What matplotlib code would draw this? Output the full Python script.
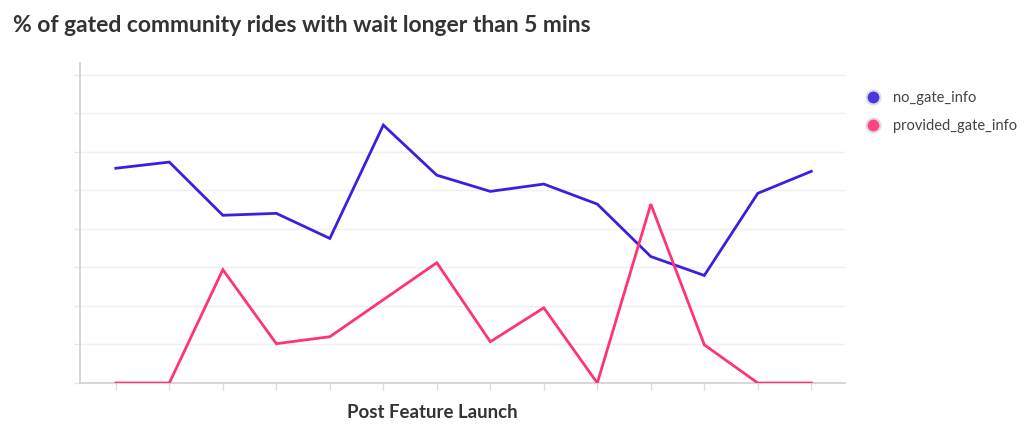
import matplotlib
matplotlib.use('Agg')
import matplotlib.pyplot as plt
from matplotlib.lines import Line2D

plt.rcParams['font.family'] = ['Lato', 'DejaVu Sans']

# 14 periods after launch (one unit per gridline)
periods = list(range(14))
no_gate_info = [5.57, 5.73, 4.35, 4.40, 3.75, 6.69, 5.39, 4.97, 5.16, 4.64, 3.28, 2.79, 4.92, 5.49]
provided_gate_info = [0, 0, 2.94, 1.02, 1.20, 2.16, 3.12, 1.07, 1.95, 0, 4.64, 0.99, 0, 0]
series_names = ['no_gate_info', 'provided_gate_info']
series_colors = ['#3b1fe0', '#ff3377']
marker_colors = ['#4b36e6', '#ff4580']
y_ticks = list(range(9))

fig = plt.figure(figsize=(10.24, 4.4), dpi=100)
ax = fig.add_axes([80 / 1024, 1 - 383 / 440, 765 / 1024, 320 / 440])

for vals, color in zip([no_gate_info, provided_gate_info], series_colors):
    ax.plot(periods, vals, color=color, linewidth=2, solid_joinstyle='miter', zorder=3)

ax.set_xlim(-0.67, 13.63)
ax.set_ylim(0, 8.3)
ax.set_yticks(y_ticks)
ax.set_xticks(periods)
ax.set_yticklabels([])
ax.set_xticklabels([])
ax.grid(axis='y', color='#efefef', linewidth=1)
ax.set_axisbelow(True)
for side in ['top', 'right']:
    ax.spines[side].set_visible(False)
for side in ['left', 'bottom']:
    ax.spines[side].set_color('#d0d0d0')
    ax.spines[side].set_linewidth(1.2)
ax.tick_params(axis='x', length=5, color='#dddddd', width=1)
ax.tick_params(axis='y', length=4, color='#e6e6e6', width=1)

fig.text(13 / 1024, 1 - 25 / 440, '% of gated community rides with wait longer than 5 mins',
         fontsize=16.5, fontweight='bold', color='#333333', va='center', ha='left')
fig.text(432 / 1024, 1 - 412 / 440, 'Post Feature Launch',
         fontsize=13.4, fontweight='bold', color='#333333', va='center', ha='center')

handles = [Line2D([], [], linestyle='none', marker='o', markersize=10,
                  markerfacecolor=c, markeredgecolor='#dddddd', markeredgewidth=1.5)
           for c in marker_colors]
fig.legend(handles, series_names, loc='upper left', bbox_to_anchor=(858 / 1024, 1 - 91 / 440),
           frameon=False, fontsize=10.5, labelcolor='#444444', handletextpad=0.4,
           labelspacing=0.95, borderaxespad=0, borderpad=0)

fig.savefig('out.png', dpi=100)
